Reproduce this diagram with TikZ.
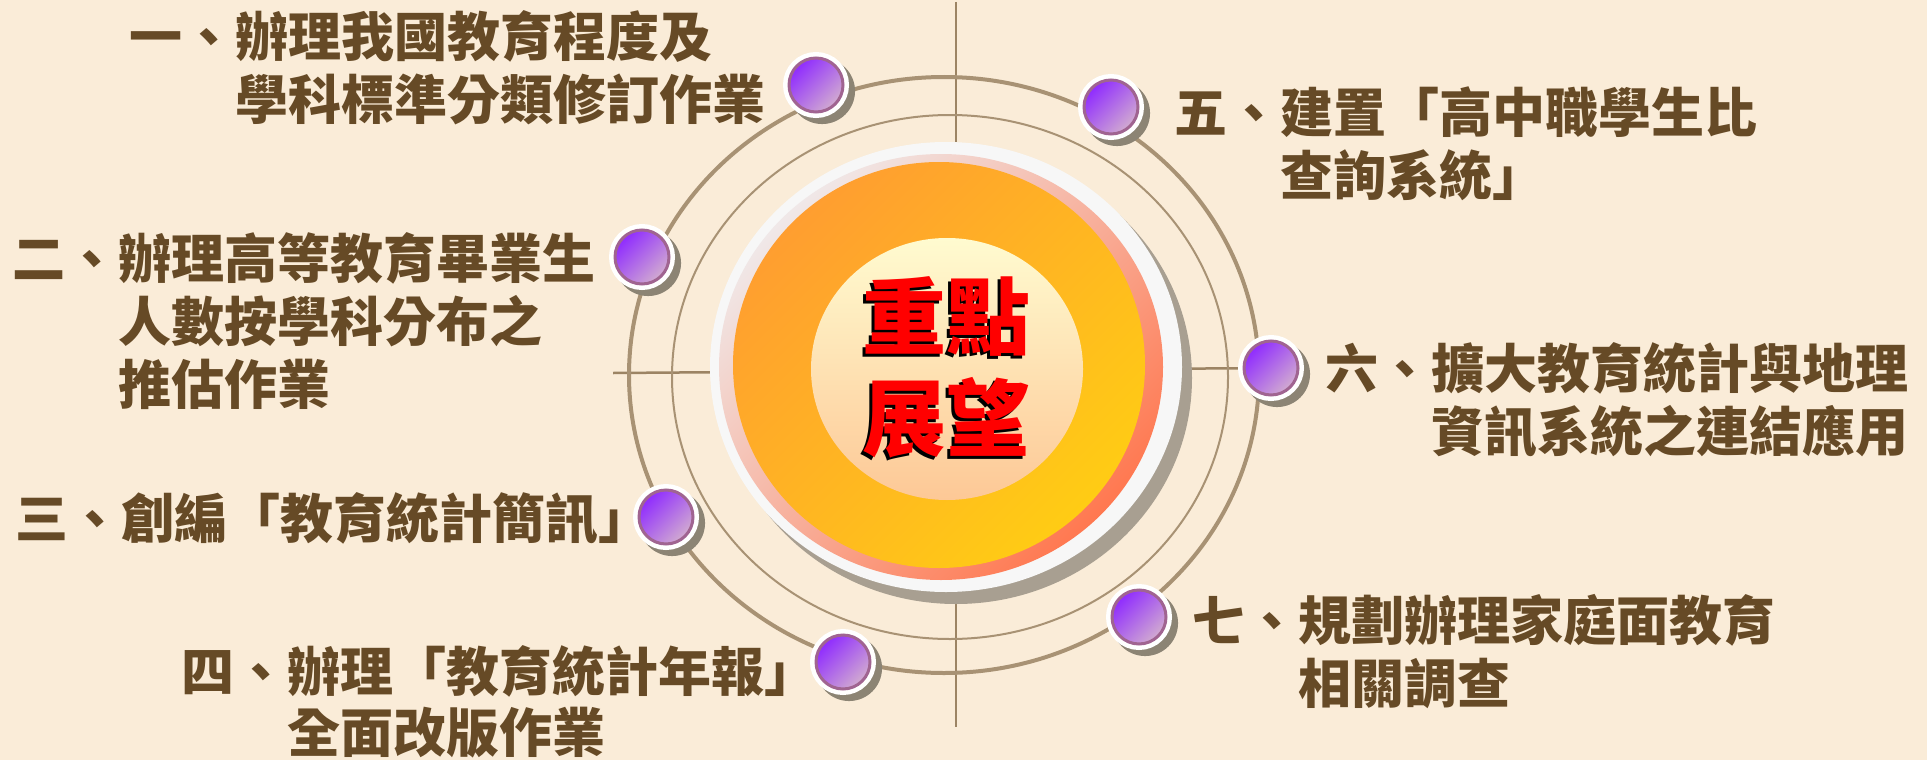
\documentclass[tikz,border=0pt]{standalone}
\usepackage{fontspec}
\newfontfamily\cjk{Noto Sans CJK TC}
\usetikzlibrary{shadows,backgrounds}
\definecolor{paper}{RGB}{250,236,216}
\definecolor{ink}{RGB}{102,74,38}
\definecolor{orbit}{RGB}{168,146,116}
\definecolor{crossline}{RGB}{156,132,100}
\definecolor{beadA}{RGB}{143,43,255}
\definecolor{beadB}{RGB}{210,172,208}
\definecolor{beadrim}{RGB}{160,100,145}
\definecolor{beadshade}{RGB}{140,132,116}
\definecolor{diskshade}{RGB}{168,159,145}
\definecolor{hotA}{RGB}{255,158,48}
\definecolor{hotB}{RGB}{255,204,20}
\definecolor{rimA}{RGB}{240,232,232}
\definecolor{rimB}{RGB}{255,120,80}
\definecolor{coreA}{RGB}{255,251,208}
\definecolor{coreB}{RGB}{253,200,150}

\begin{document}
\begin{tikzpicture}[x=1pt, y=-1pt,
  every node/.style={inner sep=0pt},
  item/.style={anchor=north west, align=left, text=ink,
    font=\cjk\bfseries\fontsize{53}{63}\selectfont},
  title/.style={align=center, font=\cjk\bfseries\fontsize{84}{101}\selectfont},
  bead/.style={circle, minimum size=54pt, draw=beadrim, line width=3pt,
    top color=beadA, bottom color=beadB, shading angle=45,
    drop shadow={shadow xshift=5pt, shadow yshift=-5pt, shadow scale=1.22,
      fill=beadshade, opacity=1},
    preaction={draw=white, line width=12pt}}]
\useasboundingbox (0,0) rectangle (1927,760);
\fill[diskshade] (956,378) ellipse [x radius=236pt, y radius=226pt];
\fill[white!97!black] (946,367) ellipse [x radius=236pt, y radius=225pt];
\shade[top color=rimA, bottom color=rimB, shading angle=45]
  (941,367) ellipse [x radius=222pt, y radius=213pt];
\shade[top color=hotA, bottom color=hotB, shading angle=45]
  (939,365) ellipse [x radius=206pt, y radius=203pt];
\shade[top color=coreA, bottom color=coreB]
  (947,369) ellipse [x radius=136pt, y radius=131pt];
\node[title, text=black] (Zs) at (943,370) {重點\\展望};
\node[title, text=red] (Z) at (946,367) {重點\\展望};
\node[bead] (A) at (816,85) {};
\node[bead] (B) at (642,257) {};
\node[bead] (C) at (666,517) {};
\node[bead] (D) at (843,662) {};
\node[bead] (E) at (1111,107) {};
\node[bead] (F) at (1271,368) {};
\node[bead] (G) at (1139,617) {};
\node[item] (TA) at (129,10) {一、辦理我國教育程度及\\\hspace*{2em}學科標準分類修訂作業};
\node[item] (TB) at (12,232) {二、辦理高等教育畢業生\\\hspace*{2em}人數按學科分布之\\\hspace*{2em}推估作業};
\node[item] (TC) at (15,492) {三、創編「教育統計簡訊」};
\node[item] (TD) at (181,645) {四、辦理「教育統計年報」\\[-2pt]\hspace*{2em}全面改版作業};
\node[item] (TE) at (1174,87) {五、建置「高中職學生比\\\hspace*{2em}查詢系統」};
\node[item] (TF) at (1325,342) {六、擴大教育統計與地理\\\hspace*{2em}資訊系統之連結應用};
\node[item] (TG) at (1192,594) {七、規劃辦理家庭面教育\\\hspace*{2em}相關調查};
\begin{scope}[on background layer]
\fill[paper] (0,0) rectangle (1927,760);
\draw[crossline, line width=2.5pt] (956,2) -- (956,727);
\draw[crossline, line width=2.5pt] (613,373) -- (F.center);
\draw[orbit, line width=4pt] (944,375) ellipse [x radius=315pt, y radius=298pt];
\draw[orbit, line width=2pt] (950,377) ellipse [x radius=278pt, y radius=262pt];
\end{scope}
\end{tikzpicture}
\end{document}
